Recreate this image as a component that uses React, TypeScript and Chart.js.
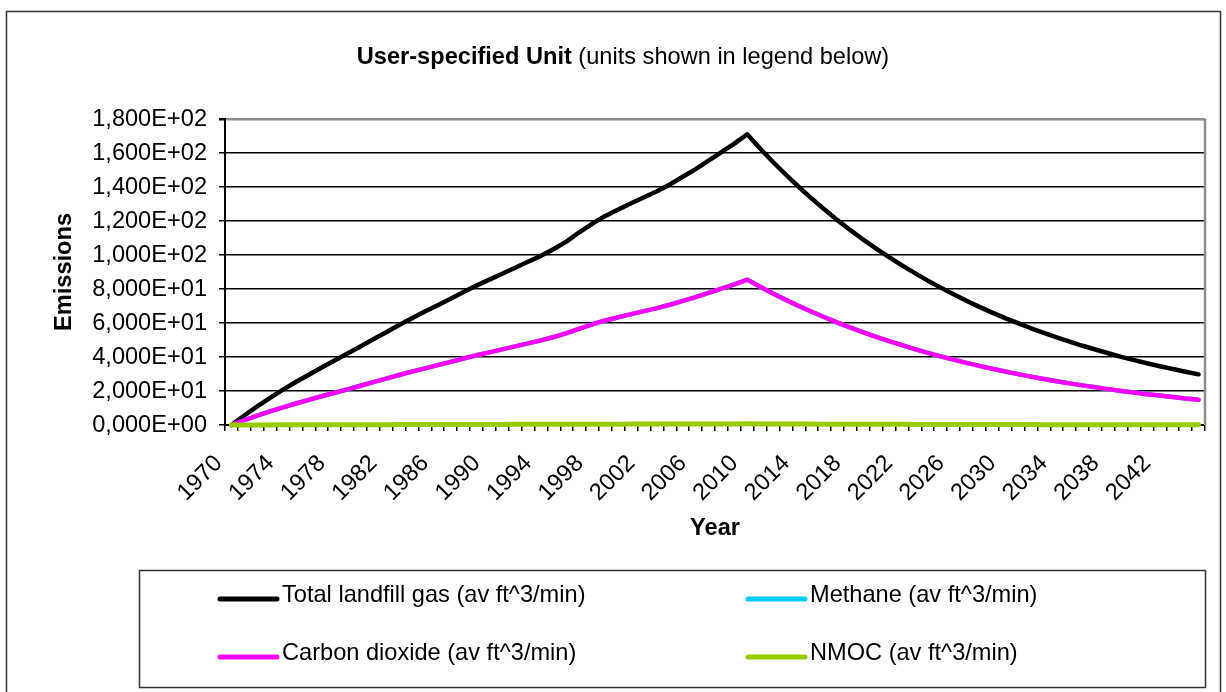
import React, { useEffect, useRef } from 'react';
import { Chart, registerables } from 'chart.js';

Chart.register(...registerables);

const years = [
  '1970', '1971', '1972', '1973', '1974', '1975', '1976', '1977', '1978', '1979',
  '1980', '1981', '1982', '1983', '1984', '1985', '1986', '1987', '1988', '1989',
  '1990', '1991', '1992', '1993', '1994', '1995', '1996', '1997', '1998', '1999',
  '2000', '2001', '2002', '2003', '2004', '2005', '2006', '2007', '2008', '2009',
  '2010', '2011', '2012', '2013', '2014', '2015', '2016', '2017', '2018', '2019',
  '2020', '2021', '2022', '2023', '2024', '2025', '2026', '2027', '2028', '2029',
  '2030', '2031', '2032', '2033', '2034', '2035', '2036', '2037', '2038', '2039',
  '2040', '2041', '2042', '2043', '2044', '2045',
];

const shownYearLabels = [
  '1970', '1974', '1978', '1982', '1986', '1990', '1994', '1998', '2002', '2006',
  '2010', '2014', '2018', '2022', '2026', '2030', '2034', '2038', '2042',
];

const yTickLabels = [
  '0,000E+00', '2,000E+01', '4,000E+01', '6,000E+01', '8,000E+01',
  '1,000E+02', '1,200E+02', '1,400E+02', '1,600E+02', '1,800E+02',
];

const totalLandfillGas = [
  0, 5.6, 11.0, 16.0, 20.8, 25.3, 29.6, 33.8, 37.9, 42.0,
  46.2, 50.4, 54.6, 58.8, 62.8, 66.7, 70.5, 74.3, 78.2, 82.0,
  85.5, 89.0, 92.5, 96.0, 99.5, 103.5, 108.0, 113.5, 118.5, 123.0,
  126.8, 130.5, 134.0, 137.5, 141.5, 146.0, 150.5, 155.5, 160.5, 165.5,
  171.0, 162.7, 154.7, 147.2, 140.0, 133.2, 126.7, 120.5, 114.6, 109.0,
  103.7, 98.7, 93.9, 89.3, 84.9, 80.8, 76.9, 73.1, 69.5, 66.1,
  62.9, 59.9, 56.9, 54.2, 51.5, 49.0, 46.6, 44.4, 42.2, 40.1,
  38.2, 36.3, 34.6, 32.9, 31.3, 29.8,
];

const methane = [
  0, 2.8, 5.5, 8.0, 10.4, 12.65, 14.8, 16.9, 18.95, 21.0,
  23.1, 25.2, 27.3, 29.4, 31.4, 33.35, 35.25, 37.15, 39.1, 41.0,
  42.75, 44.5, 46.25, 48.0, 49.75, 51.75, 54.0, 56.75, 59.25, 61.5,
  63.4, 65.25, 67.0, 68.75, 70.75, 73.0, 75.25, 77.75, 80.25, 82.75,
  85.5, 81.35, 77.35, 73.6, 70.0, 66.6, 63.35, 60.25, 57.3, 54.5,
  51.85, 49.35, 46.95, 44.65, 42.45, 40.4, 38.45, 36.55, 34.75, 33.05,
  31.45, 29.95, 28.45, 27.1, 25.75, 24.5, 23.3, 22.2, 21.1, 20.05,
  19.1, 18.15, 17.3, 16.45, 15.65, 14.9,
];

const carbonDioxide = [
  0, 2.8, 5.5, 8.0, 10.4, 12.65, 14.8, 16.9, 18.95, 21.0,
  23.1, 25.2, 27.3, 29.4, 31.4, 33.35, 35.25, 37.15, 39.1, 41.0,
  42.75, 44.5, 46.25, 48.0, 49.75, 51.75, 54.0, 56.75, 59.25, 61.5,
  63.4, 65.25, 67.0, 68.75, 70.75, 73.0, 75.25, 77.75, 80.25, 82.75,
  85.5, 81.35, 77.35, 73.6, 70.0, 66.6, 63.35, 60.25, 57.3, 54.5,
  51.85, 49.35, 46.95, 44.65, 42.45, 40.4, 38.45, 36.55, 34.75, 33.05,
  31.45, 29.95, 28.45, 27.1, 25.75, 24.5, 23.3, 22.2, 21.1, 20.05,
  19.1, 18.15, 17.3, 16.45, 15.65, 14.9,
];

const nmoc = [
  0, 0.02, 0.05, 0.07, 0.09, 0.1, 0.12, 0.14, 0.15, 0.17,
  0.19, 0.2, 0.22, 0.24, 0.25, 0.27, 0.28, 0.3, 0.31, 0.33,
  0.34, 0.36, 0.37, 0.38, 0.4, 0.41, 0.43, 0.45, 0.48, 0.49,
  0.51, 0.52, 0.54, 0.55, 0.57, 0.58, 0.6, 0.62, 0.64, 0.66,
  0.68, 0.65, 0.62, 0.59, 0.56, 0.53, 0.51, 0.48, 0.46, 0.44,
  0.41, 0.39, 0.38, 0.36, 0.34, 0.32, 0.31, 0.29, 0.28, 0.26,
  0.25, 0.24, 0.23, 0.22, 0.21, 0.2, 0.19, 0.18, 0.17, 0.16,
  0.15, 0.15, 0.14, 0.13, 0.13, 0.12,
];

const seriesLabels = [
  'Total landfill gas (av ft^3/min)',
  'Methane (av ft^3/min)',
  'Carbon dioxide (av ft^3/min)',
  'NMOC (av ft^3/min)',
];
const seriesColors = ['#000000', '#00CCFF', '#FF00FF', '#99CC00'];

const titleBold = 'User-specified Unit';
const titleRegular = ' (units shown in legend below)';
const yAxisTitle = 'Emissions';
const xAxisTitle = 'Year';

const FONT = '"Liberation Sans", Arial, Helvetica, sans-serif';
const FS = 23.6;

const decorPlugin = {
  id: 'decor',
  beforeDraw(chart: any) {
    const ctx = chart.ctx;
    ctx.save();
    ctx.fillStyle = '#ffffff';
    ctx.fillRect(0, 0, chart.width, chart.height);
    ctx.strokeStyle = '#333333';
    ctx.lineWidth = 1.5;
    ctx.strokeRect(6.5, 11.5, 1214, 700);
    ctx.restore();
  },
  beforeDatasetsDraw(chart: any) {
    const { ctx, chartArea } = chart;
    ctx.save();
    ctx.strokeStyle = '#8c8c8c';
    ctx.lineWidth = 2.5;
    ctx.beginPath();
    ctx.moveTo(chartArea.right, chartArea.top);
    ctx.lineTo(chartArea.right, chartArea.bottom);
    ctx.stroke();
    ctx.restore();
  },
  afterDraw(chart: any) {
    const ctx = chart.ctx;
    ctx.save();
    ctx.fillStyle = '#000';
    ctx.textBaseline = 'alphabetic';
    ctx.textAlign = 'left';
    ctx.font = `bold ${FS}px ${FONT}`;
    const w1 = ctx.measureText(titleBold).width;
    ctx.font = `${FS}px ${FONT}`;
    const w2 = ctx.measureText(titleRegular).width;
    const startX = 623 - (w1 + w2) / 2;
    ctx.font = `bold ${FS}px ${FONT}`;
    ctx.fillText(titleBold, startX, 63.5);
    ctx.font = `${FS}px ${FONT}`;
    ctx.fillText(titleRegular, startX + w1, 63.5);

    ctx.strokeStyle = '#333333';
    ctx.lineWidth = 1.5;
    ctx.strokeRect(139.5, 570.5, 1066, 117);
    const colX = [220, 748];
    const rowY = [599, 657];
    for (let i = 0; i < seriesLabels.length; i++) {
      const col = i % 2;
      const row = Math.floor(i / 2);
      const x0 = colX[col];
      const y = rowY[row];
      ctx.strokeStyle = seriesColors[i];
      ctx.lineWidth = 5;
      ctx.lineCap = 'round';
      ctx.beginPath();
      ctx.moveTo(x0, y);
      ctx.lineTo(x0 + 57, y);
      ctx.stroke();
      ctx.fillStyle = '#000';
      ctx.font = `${FS}px ${FONT}`;
      ctx.textBaseline = 'middle';
      ctx.fillText(seriesLabels[i], x0 + 62, y - 4);
    }
    ctx.restore();
  },
};

export default function App() {
  const canvasRef = useRef<HTMLCanvasElement | null>(null);

  useEffect(() => {
    if (!canvasRef.current) return;
    Chart.defaults.font.family = FONT;
    Chart.defaults.color = '#000';

    const seriesData = [totalLandfillGas, methane, carbonDioxide, nmoc];
    const orders = [3, 2, 1, 0];
    const widths = [4.5, 4.5, 4.5, 5];

    const chart = new Chart(canvasRef.current, {
      type: 'line',
      data: {
        labels: years,
        datasets: seriesData.map((d, i) => ({
          label: seriesLabels[i],
          data: d,
          borderColor: seriesColors[i],
          backgroundColor: seriesColors[i],
          borderWidth: widths[i],
          pointRadius: 0,
          fill: false,
          tension: 0,
          borderJoinStyle: 'round',
          borderCapStyle: 'round',
          clip: false,
          order: orders[i],
        })),
      },
      options: {
        responsive: false,
        animation: false,
        events: [],
        layout: { padding: { left: 0, top: 119, right: 21, bottom: 0 } },
        plugins: {
          legend: { display: false },
          tooltip: { enabled: false },
          title: { display: false },
        },
        scales: {
          x: {
            type: 'category',
            offset: true,
            grid: {
              offset: true,
              drawOnChartArea: false,
              drawTicks: true,
              tickLength: 6,
              color: '#000',
              lineWidth: 1.5,
            },
            border: { display: true, color: '#000', width: 2 },
            ticks: {
              autoSkip: false,
              maxRotation: 45,
              minRotation: 45,
              padding: 18.7,
              labelOffset: -12.7,
              font: { size: FS, family: FONT },
              color: '#000',
              callback: (_v: any, idx: number) =>
                shownYearLabels.includes(years[idx]) ? years[idx] : '',
            },
            title: {
              display: true,
              text: xAxisTitle,
              font: { size: FS, weight: 'bold', family: FONT },
              color: '#000',
              padding: { top: 0, bottom: 149.8 },
            },
            afterFit: (scale: any) => {
              scale.height = 267;
              scale.paddingLeft = 0;
              scale.paddingRight = 0;
            },
          },
          y: {
            type: 'linear',
            min: 0,
            max: 180,
            ticks: {
              stepSize: 20,
              padding: 12,
              font: { size: FS, family: FONT },
              color: '#000',
              callback: (v: any) => yTickLabels[Math.round(Number(v) / 20)],
            },
            grid: {
              drawOnChartArea: true,
              drawTicks: true,
              tickLength: 6,
              color: (c: any) => (c.tick && c.tick.value === 180 ? '#8c8c8c' : '#000'),
              tickColor: '#000',
              lineWidth: (c: any) => (c.tick && c.tick.value === 180 ? 2.5 : 1.5),
            },
            border: { display: true, color: '#000', width: 2 },
            title: {
              display: true,
              text: yAxisTitle,
              font: { size: FS, weight: 'bold', family: FONT },
              color: '#000',
              padding: { top: 50.8, bottom: 0 },
            },
            afterFit: (scale: any) => {
              scale.width = 225;
            },
          },
        },
      },
      plugins: [decorPlugin],
    } as any);

    return () => chart.destroy();
  }, []);

  return (
    <div
      style={{
        position: 'absolute',
        left: 0,
        top: 0,
        width: 1226,
        height: 692,
        overflow: 'hidden',
        background: '#fff',
      }}
    >
      <canvas
        ref={canvasRef}
        width={1226}
        height={692}
        style={{ display: 'block', width: 1226, height: 692 }}
      />
    </div>
  );
}
